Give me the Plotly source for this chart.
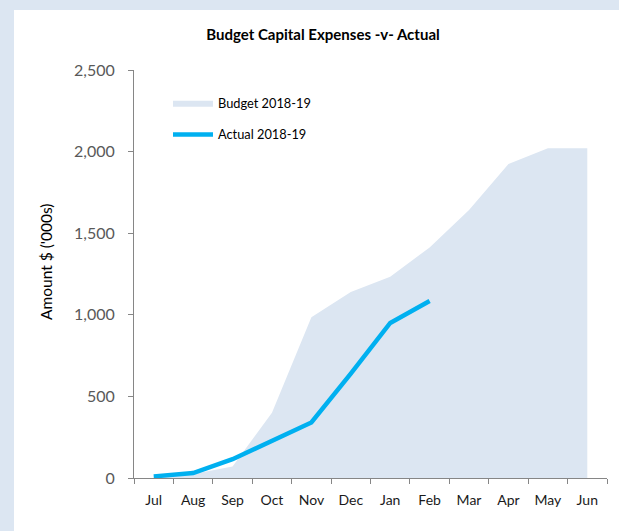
import plotly.graph_objects as go

# Months of the 2018-19 financial year
months = ["Jul", "Aug", "Sep", "Oct", "Nov", "Dec", "Jan", "Feb", "Mar", "Apr", "May", "Jun"]

# Cumulative capital expenses, $'000s
budget = [5, 25, 70, 400, 985, 1140, 1233, 1413, 1642, 1924, 2020, 2020]
actual_months = ["Jul", "Aug", "Sep", "Oct", "Nov", "Dec", "Jan", "Feb"]
actual = [10, 30, 115, 225, 340, 640, 950, 1085]

y_ticks = [0, 500, 1000, 1500, 2000, 2500]

W, H = 619, 531
L, R, T, B = 134, 12, 70, 53
pw, ph = W - L - R, H - T - B

fig = go.Figure()

fig.add_trace(go.Scatter(
    x=months, y=budget, name="Budget 2018-19",
    mode="lines", fill="tozeroy",
    line=dict(width=0, color="#dce6f2"),
    fillcolor="#dce6f2",
    legendgroup="b", hoverinfo="skip",
))
fig.add_trace(go.Scatter(
    x=actual_months, y=actual, name="Actual 2018-19",
    mode="lines",
    line=dict(width=4.5, color="#00b0f0"),
    legendgroup="a",
))

# White chart panel on the light blue page
fig.add_shape(
    type="rect", xref="paper", yref="paper", layer="below",
    x0=(14 - L) / pw, x1=(W - L) / pw + 0.01,
    y0=-(B + 5) / ph, y1=(H - B - 10) / ph,
    fillcolor="white", line=dict(width=0),
)

# Vertical axis title
fig.add_annotation(
    text="Amount $ ('000s)", textangle=-90,
    xref="paper", yref="paper",
    x=(46 - L) / pw, y=(H - B - 262) / ph,
    xanchor="center", yanchor="middle", showarrow=False,
    font=dict(size=15.5, color="#000000"),
)

fig.update_layout(
    width=W, height=H,
    margin=dict(l=L, r=R, t=T, b=B),
    paper_bgcolor="#dce6f2",
    plot_bgcolor="white",
    font=dict(family="Lato, Calibri, sans-serif", color="#000000"),
    title=dict(
        text="<b>Budget Capital Expenses -v- Actual</b>",
        font=dict(size=15, color="#000000"),
        x=323 / W, xanchor="center", xref="container",
        y=1 - 35 / H, yanchor="middle", yref="container",
    ),
    showlegend=True,
    legend=dict(
        x=(168 - L) / pw, y=(H - B - 88) / ph,
        xanchor="left", yanchor="top",
        bgcolor="rgba(0,0,0,0)",
        font=dict(size=12.8, color="#000000"),
        tracegroupgap=12,
        itemwidth=40,
        traceorder="grouped",
    ),
    xaxis=dict(
        type="category", categoryorder="array", categoryarray=months,
        range=[-0.5, 11.5],
        tickson="boundaries", ticks="outside", ticklen=5,
        tickcolor="#868686", tickwidth=1,
        showline=True, linecolor="#868686", linewidth=1,
        showgrid=False, zeroline=False,
        ticklabelstandoff=9,
        tickfont=dict(size=14, color="#1a1a1a"),
    ),
    yaxis=dict(
        range=[0, 2500],
        tickvals=y_ticks, tickformat=",d",
        ticks="outside", ticklen=5, tickcolor="#868686", tickwidth=1,
        showline=True, linecolor="#868686", linewidth=1,
        showgrid=False, zeroline=False,
        ticklabelstandoff=10,
        tickfont=dict(size=16, color="#595959"),
    ),
)

fig.write_html("out.html")
